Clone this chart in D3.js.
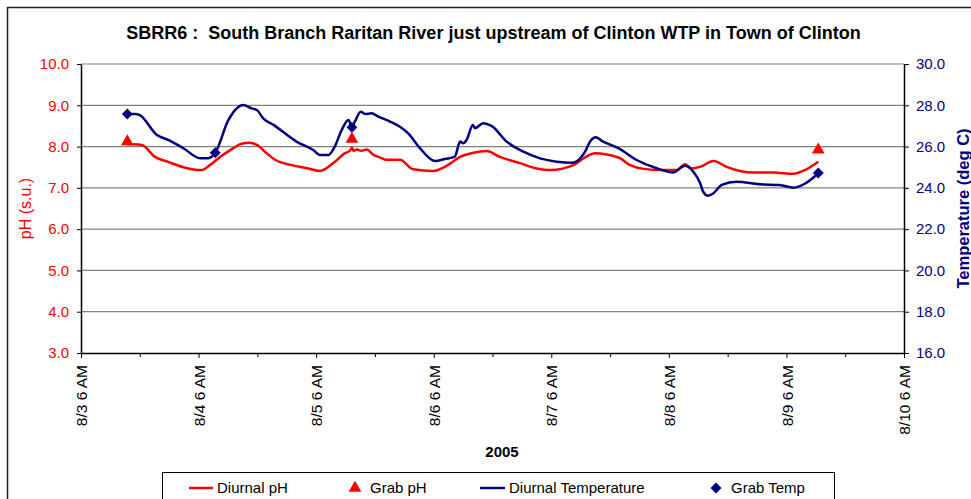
<!DOCTYPE html>
<html><head><meta charset="utf-8">
<script src="https://cdn.jsdelivr.net/npm/d3@7"></script>
<style>
body{margin:0;background:#fff;}
svg text{font-family:"Liberation Sans",Arial,sans-serif;white-space:pre;}
</style></head>
<body><svg id="c" width="971" height="499"></svg>
<script>
const title = "SBRR6 :  South Branch Raritan River just upstream of Clinton WTP in Town of Clinton";
const xTickLabels = ["8/3 6 AM","8/4 6 AM","8/5 6 AM","8/6 6 AM","8/7 6 AM","8/8 6 AM","8/9 6 AM","8/10 6 AM"];
const phTicks = [3,4,5,6,7,8,9,10];
const tempTicks = [16,18,20,22,24,26,28,30];
// hours since 8/3 6 AM
const phHours = [9.3,12.4,15.1,17.8,20.9,24.6,26.3,28.4,31.1,32.5,34.5,35.9,37.9,39.6,43.0,46.4,48.8,51.5,53.9,54.9,55.3,55.6,56.3,57.2,58.3,59.7,61.0,62.4,65.1,67.8,71.9,74.6,77.4,80.1,82.8,85.5,89.6,93.0,95.7,100.5,102.9,104.9,107.3,110.0,112.1,114.8,118.9,121.6,123.3,124.7,126.4,129.1,131.8,134.5,137.2,141.3,145.4,148.1,150.5];
const phValues = [8.06,8.04,7.75,7.63,7.50,7.43,7.55,7.75,7.96,8.06,8.09,8.04,7.84,7.68,7.55,7.47,7.41,7.60,7.84,7.90,7.97,7.90,7.93,7.90,7.93,7.80,7.74,7.68,7.68,7.45,7.41,7.53,7.75,7.85,7.89,7.75,7.60,7.47,7.43,7.55,7.74,7.84,7.81,7.72,7.55,7.46,7.43,7.43,7.57,7.47,7.51,7.65,7.51,7.41,7.37,7.37,7.34,7.45,7.63];
const tempHours = [9.45,11.0,12.0,15.5,17.8,20.9,24.3,26.0,27.4,30.1,33.1,34.8,35.9,37.2,39.3,44.0,47.4,48.8,50.5,51.8,53.2,54.6,55.3,55.9,57.1,58.0,59.3,60.7,63.1,65.1,66.8,69.2,72.3,74.3,76.3,77.4,78.0,78.7,80.0,80.4,82.1,83.8,86.9,90.3,93.7,97.1,100.2,101.9,102.9,103.9,105.1,106.3,109.7,113.4,117.5,120.9,123.3,125.0,126.4,127.0,128.0,129.1,130.8,133.8,138.6,142.6,145.4,148.1,150.5];
const tempValues = [27.58,27.58,27.52,26.56,26.32,25.92,25.44,25.44,25.70,27.29,28.01,27.85,27.77,27.37,27.05,26.24,25.83,25.59,25.59,26.0,26.80,27.29,26.96,27.21,27.69,27.58,27.61,27.45,27.21,26.96,26.64,25.92,25.30,25.40,25.51,26.24,26.16,26.32,27.05,26.89,27.13,27.0,26.24,25.75,25.43,25.27,25.22,25.43,25.75,26.24,26.45,26.28,25.92,25.35,24.95,24.75,25.07,24.78,24.22,23.81,23.62,23.74,24.14,24.30,24.17,24.14,24.01,24.25,24.71];
const grabPhHours = [9.45,55.3,150.5];
const grabPhValues = [8.12,8.18,7.92];
const grabTempHours = [9.45,27.4,55.3,150.5];
const grabTempValues = [27.58,25.70,26.93,24.72];
const legendLabels = ["Diurnal pH","Grab pH","Diurnal Temperature","Grab Temp"];

const RED="#FF0000", NAVY="#000080";
const svg = d3.select("#c");
const L=81, R=904, T=64, B=353;
const start = new Date(2005,7,3,6);
const hr = h => new Date(start.getTime()+h*3600000);
const x = d3.scaleTime().domain([start, hr(168)]).range([L,R]);
const yPh = d3.scaleLinear().domain([3,10]).range([B,T]);
const yT = d3.scaleLinear().domain([16,30]).range([B,T]);

// outer frame
svg.append("rect").attr("x",7.5).attr("y",7.5).attr("width",1000).attr("height",600)
  .attr("fill","none").attr("stroke","#222").attr("stroke-width",1.5);

// title
svg.append("text").attr("x",493.5).attr("y",39).attr("text-anchor","middle")
  .attr("font-size",18).attr("font-weight","bold").attr("fill","#000").text(title);

// gridlines
svg.append("g").selectAll("line").data(phTicks.filter(v=>v>3)).join("line")
  .attr("x1",L).attr("x2",R).attr("y1",d=>yPh(d)).attr("y2",d=>yPh(d))
  .attr("stroke","#808080").attr("stroke-width",1.2);

// left axis
const gl = svg.append("g").attr("transform",`translate(${L},0)`)
  .call(d3.axisLeft(yPh).tickValues(phTicks).tickFormat(d3.format(".1f")).tickSize(4).tickSizeOuter(0));
gl.select(".domain").attr("stroke","#000").attr("stroke-width",1.5);
gl.selectAll(".tick line").attr("stroke","#000");
gl.selectAll(".tick text").attr("fill",RED).attr("font-size",15).attr("x",-12).attr("font-family","Liberation Sans, Arial, sans-serif");

// right axis
const gr = svg.append("g").attr("transform",`translate(${R},0)`)
  .call(d3.axisRight(yT).tickValues(tempTicks).tickFormat(d3.format(".1f")).tickSize(5).tickSizeOuter(0));
gr.select(".domain").attr("stroke","#000").attr("stroke-width",1.5);
gr.selectAll(".tick line").attr("stroke","#000");
gr.selectAll(".tick text").attr("fill",NAVY).attr("font-size",15).attr("x",12).attr("font-family","Liberation Sans, Arial, sans-serif");

// bottom axis
const majorTicks = d3.range(0,169,24).map(hr);
const minorTicks = d3.range(12,169,24).map(hr);
const gb = svg.append("g").attr("transform",`translate(0,${B})`)
  .call(d3.axisBottom(x).tickValues(majorTicks).tickSize(5).tickSizeOuter(0)
    .tickFormat((d,i)=>xTickLabels[i]));
gb.select(".domain").attr("stroke","#000").attr("stroke-width",1.5);
gb.selectAll(".tick line").attr("stroke","#000");
gb.selectAll(".tick text").attr("font-size",15.5).attr("fill","#000")
  .attr("font-family","Liberation Sans, Arial, sans-serif")
  .attr("transform","rotate(-90)").attr("text-anchor","end")
  .attr("x",-12).attr("y",0).attr("dy","0.36em");
svg.append("g").attr("transform",`translate(0,${B})`)
  .call(d3.axisBottom(x).tickValues(minorTicks).tickSize(4).tickFormat(""))
  .call(g=>g.select(".domain").remove())
  .selectAll(".tick line").attr("stroke","#000");

// axis titles
svg.append("text").attr("transform",`translate(31,${(T+B)/2}) rotate(-90)`).attr("text-anchor","middle")
  .attr("font-size",16).attr("fill",RED).text("pH (s.u.)");
svg.append("text").attr("transform",`translate(969,${(T+B)/2}) rotate(-90)`).attr("text-anchor","middle")
  .attr("font-size",16.5).attr("font-weight","bold").attr("fill",NAVY).text("Temperature (deg C)");
svg.append("text").attr("x",502).attr("y",457).attr("text-anchor","middle")
  .attr("font-size",15).attr("font-weight","bold").attr("fill","#000").text("2005");

// lines
const phLine = d3.line().x((d,i)=>x(hr(phHours[i]))).y(d=>yPh(d)).curve(d3.curveMonotoneX);
const tLine = d3.line().x((d,i)=>x(hr(tempHours[i]))).y(d=>yT(d)).curve(d3.curveMonotoneX);
svg.append("path").datum(phValues).attr("d",phLine).attr("fill","none").attr("stroke",RED).attr("stroke-width",2.5).attr("stroke-linejoin","round");
svg.append("path").datum(tempValues).attr("d",tLine).attr("fill","none").attr("stroke",NAVY).attr("stroke-width",2.5).attr("stroke-linejoin","round");

const tri = d3.symbol().type(d3.symbolTriangle).size(70);
const dia = d3.symbol().type(d3.symbolSquare).size(60);
svg.append("g").selectAll("path").data(grabPhValues).join("path")
  .attr("d",tri).attr("fill",RED)
  .attr("transform",(d,i)=>`translate(${x(hr(grabPhHours[i]))},${yPh(d)})`);
svg.append("g").selectAll("path").data(grabTempValues).join("path")
  .attr("d",dia).attr("fill",NAVY)
  .attr("transform",(d,i)=>`translate(${x(hr(grabTempHours[i]))},${yT(d)}) rotate(45)`);

// legend
const lg = svg.append("g");
lg.append("rect").attr("x",162.5).attr("y",472.5).attr("width",672).attr("height",60)
  .attr("fill","#fff").attr("stroke","#000").attr("stroke-width",1);
const ly = 488;
lg.append("line").attr("x1",189).attr("x2",213).attr("y1",ly).attr("y2",ly).attr("stroke",RED).attr("stroke-width",2.5);
lg.append("path").attr("d",tri).attr("fill",RED).attr("transform",`translate(355,${ly})`);
lg.append("line").attr("x1",480).attr("x2",505).attr("y1",ly).attr("y2",ly).attr("stroke",NAVY).attr("stroke-width",2.5);
lg.append("path").attr("d",dia).attr("fill",NAVY).attr("transform",`translate(716,${ly}) rotate(45)`);
const lx = [217,370,509,731];
lg.selectAll("text").data(legendLabels).join("text")
  .attr("x",(d,i)=>lx[i]).attr("y",ly).attr("dy","0.36em").attr("font-size",15).attr("fill","#000").text(d=>d);
</script></body></html>
